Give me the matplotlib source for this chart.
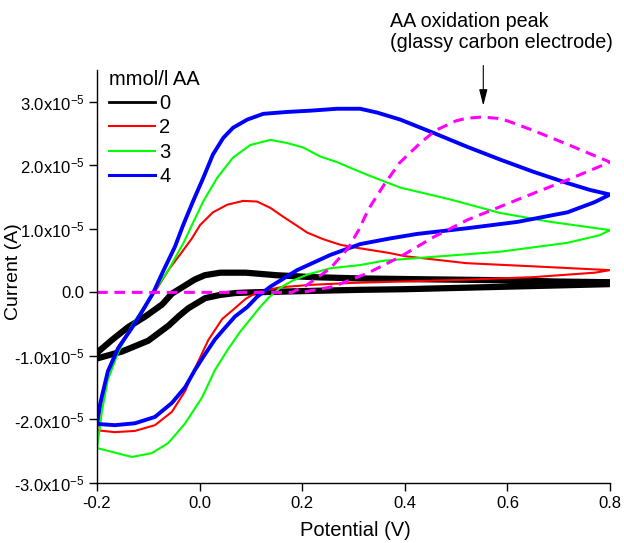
import numpy as np
import matplotlib
matplotlib.use("Agg")
import matplotlib.pyplot as plt
from matplotlib.ticker import FuncFormatter

plt.rcParams['font.family'] = 'Liberation Sans'
plt.rcParams['mathtext.fontset'] = 'custom'
plt.rcParams['mathtext.rm'] = 'Liberation Sans'
plt.rcParams['mathtext.it'] = 'Liberation Sans:italic'

# currents in units of 1e-5 A, potentials in V
# 0 mmol/l AA
blk_fwd_v = [-0.2, -0.171, -0.14, -0.106, -0.073, -0.054, -0.03, -0.01, 0.01, 0.04, 0.09, 0.15, 0.22, 0.31, 0.4, 0.5, 0.6, 0.7, 0.8]
blk_fwd_i = [-0.95, -0.75, -0.55, -0.38, -0.19, -0.02, 0.1, 0.2, 0.27, 0.31, 0.31, 0.27, 0.24, 0.22, 0.21, 0.20, 0.19, 0.17, 0.16]
blk_rev_v = [0.8, 0.7, 0.6, 0.5, 0.4, 0.31, 0.2, 0.1, 0.07, 0.04, 0.011, -0.022, -0.04, -0.06, -0.1, -0.151, -0.2]
blk_rev_i = [0.13, 0.11, 0.09, 0.07, 0.05, 0.04, 0.02, 0.0, -0.01, -0.04, -0.09, -0.25, -0.37, -0.52, -0.76, -0.93, -1.04]

# 2 mmol/l AA
red_fwd_v = [-0.2, -0.195, -0.19, -0.179, -0.159, -0.132, -0.106, -0.081, -0.06, -0.034, -0.015, 0.001, 0.026, 0.054,
             0.085, 0.112, 0.138, 0.163, 0.182, 0.21, 0.24, 0.274, 0.3, 0.37, 0.4, 0.52, 0.65, 0.75, 0.8]
red_fwd_i = [-2.17, -1.9, -1.65, -1.22, -0.86, -0.54, -0.23, 0.09, 0.36, 0.64, 0.85, 1.06, 1.26, 1.38,
             1.44, 1.43, 1.33, 1.19, 1.09, 0.94, 0.84, 0.75, 0.71, 0.62, 0.57, 0.46, 0.41, 0.37, 0.35]
red_rev_v = [0.8, 0.77, 0.65, 0.52, 0.39, 0.3, 0.22, 0.157, 0.112, 0.09, 0.073, 0.044, 0.017, -0.015, -0.028,
             -0.054, -0.087, -0.126, -0.165, -0.2]
red_rev_i = [0.35, 0.31, 0.24, 0.2, 0.17, 0.15, 0.12, 0.08, 0.0, -0.1, -0.22, -0.42, -0.75, -1.3, -1.55,
             -1.88, -2.09, -2.18, -2.2, -2.17]

# 3 mmol/l AA
grn_fwd_v = [-0.2, -0.195, -0.19, -0.179, -0.159, -0.132, -0.1, -0.061, -0.03, -0.015, 0.007, 0.034, 0.065, 0.099,
             0.138, 0.171, 0.202, 0.235, 0.268, 0.3, 0.333, 0.391, 0.49, 0.586, 0.684, 0.8]
grn_fwd_i = [-2.45, -2.15, -1.85, -1.38, -0.95, -0.52, -0.12, 0.35, 0.8, 1.06, 1.43, 1.8, 2.12, 2.32,
             2.4, 2.35, 2.28, 2.14, 2.05, 1.94, 1.83, 1.65, 1.46, 1.25, 1.11, 0.98]
grn_rev_v = [0.8, 0.78, 0.717, 0.586, 0.456, 0.36, 0.313, 0.255, 0.21, 0.18, 0.157, 0.135, 0.118, 0.079, 0.055,
             0.03, 0.005, -0.028, -0.061, -0.093, -0.132, -0.171, -0.2]
grn_rev_i = [0.98, 0.9, 0.78, 0.64, 0.56, 0.5, 0.43, 0.38, 0.28, 0.18, 0.07, -0.08, -0.23, -0.62, -0.9,
             -1.22, -1.65, -2.06, -2.37, -2.53, -2.59, -2.51, -2.45]

# 4 mmol/l AA
blu_fwd_v = [-0.2, -0.195, -0.19, -0.179, -0.159, -0.132, -0.112, -0.09, -0.073, -0.048, -0.032, -0.013, 0.007,
             0.026, 0.046, 0.065, 0.093, 0.124, 0.171, 0.216, 0.268, 0.313, 0.346, 0.391, 0.456, 0.522, 0.586,
             0.65, 0.717, 0.762, 0.8]
blu_fwd_i = [-2.07, -1.8, -1.62, -1.25, -0.88, -0.56, -0.3, 0.0, 0.3, 0.72, 1.06, 1.43, 1.8,
             2.17, 2.43, 2.59, 2.72, 2.81, 2.84, 2.86, 2.89, 2.89, 2.83, 2.72, 2.51, 2.29, 2.09,
             1.9, 1.72, 1.61, 1.54]
blu_rev_v = [0.8, 0.77, 0.717, 0.62, 0.522, 0.424, 0.372, 0.313, 0.255, 0.19, 0.138, 0.112, 0.093, 0.069,
             0.046, 0.03, 0.01, -0.009, -0.028, -0.054, -0.087, -0.126, -0.165, -0.2]
blu_rev_i = [1.54, 1.42, 1.26, 1.11, 1.01, 0.92, 0.85, 0.76, 0.59, 0.35, 0.09, -0.07, -0.23, -0.38,
             -0.59, -0.74, -0.98, -1.22, -1.49, -1.74, -1.96, -2.06, -2.09, -2.07]

# glassy carbon electrode (dashed)
gc_fwd_v = [-0.2, 0.0, 0.1, 0.18, 0.21, 0.255, 0.29, 0.31, 0.33, 0.36, 0.39, 0.43, 0.46, 0.5, 0.52, 0.55, 0.58,
            0.6, 0.65, 0.72, 0.8]
gc_fwd_i = [0.0, 0.0, 0.0, 0.0, 0.12, 0.38, 0.7, 0.98, 1.32, 1.7, 2.04, 2.35, 2.55, 2.7, 2.74, 2.76, 2.74,
            2.7, 2.55, 2.32, 2.05]
gc_rev_v = [0.8, 0.717, 0.62, 0.522, 0.456, 0.391, 0.327, 0.26, 0.2]
gc_rev_i = [2.05, 1.77, 1.46, 1.14, 0.87, 0.56, 0.3, 0.09, 0.0]

labels = ['0', '2', '3', '4']
colors = ['#000000', '#ff0000', '#00ff00', '#0000ff']
widths = [4.5, 1.5, 1.5, 2.8]
leg_widths = [2.0, 1.5, 1.5, 2.2]

fig = plt.figure(figsize=(6.24, 5.43), dpi=100)
ax = fig.add_axes([97/624, 1-483/543, 513/624, 413/543])

curves = [(blk_fwd_v, blk_fwd_i, blk_rev_v, blk_rev_i),
          (red_fwd_v, red_fwd_i, red_rev_v, red_rev_i),
          (grn_fwd_v, grn_fwd_i, grn_rev_v, grn_rev_i),
          (blu_fwd_v, blu_fwd_i, blu_rev_v, blu_rev_i)]

for (fv, fi, rv, ri), lab, c, w in zip(curves, labels, colors, widths):
    v = np.concatenate([fv, rv])
    i = np.concatenate([fi, ri]) * 1e-5
    ax.plot(v, i, color=c, lw=w, label=lab, solid_joinstyle='round')

gv = np.concatenate([gc_fwd_v, gc_rev_v])
gi = np.concatenate([gc_fwd_i, gc_rev_i]) * 1e-5
ax.plot(gv, gi, color='#ff00ff', lw=2.2, ls=(0, (3.5, 2.2)))

ax.set_xlim(-0.2, 0.8)
ax.set_ylim(-3e-5, 3.5e-5)
ax.set_xticks([-0.2, 0.0, 0.2, 0.4, 0.6, 0.8])
ax.set_yticks(np.arange(-3, 4) * 1e-5)

def yfmt(val, pos):
    if abs(val) < 1e-12:
        return '0.0'
    return '%.1fx10$^{\\mathregular{-5}}$' % (val / 1e-5)

ax.yaxis.set_major_formatter(FuncFormatter(yfmt))
ax.xaxis.set_major_formatter(FuncFormatter(lambda v, p: '%.1f' % v))

for s in ['top', 'right']:
    ax.spines[s].set_visible(False)
for s in ['left', 'bottom']:
    ax.spines[s].set_linewidth(1.0)
ax.tick_params(direction='out', length=6, width=1.0, labelsize=12, pad=3)

fig.text(14/624, 1-272/543, 'Current (A)', rotation=90, ha='center', va='center', fontsize=14)
fig.text(355/624, 1-531/543, 'Potential (V)', ha='center', va='center', fontsize=14.5)

leg = ax.legend(loc='upper left', bbox_to_anchor=(109/624, 1-70/543), bbox_transform=fig.transFigure,
                frameon=False, borderpad=0, borderaxespad=0, handlelength=2.3, handletextpad=0.2,
                labelspacing=0.26, title='mmol/l AA', alignment='left', fontsize=14.5, title_fontsize=14.5)
for ln, w in zip(leg.get_lines(), leg_widths):
    ln.set_linewidth(w)

fig.text(390/624, 1-12/543, 'AA oxidation peak\n(glassy carbon electrode)', ha='left', va='top',
         fontsize=14.2, linespacing=1.15)
ax.annotate('', xy=(0.553, 2.94e-5), xytext=(0.553, 3.57e-5), annotation_clip=False,
            arrowprops=dict(arrowstyle='-|>,head_length=0.7,head_width=0.18', color='k', lw=0.8,
                            mutation_scale=14, shrinkA=0, shrinkB=0))

fig.savefig('out.png', dpi=100)
